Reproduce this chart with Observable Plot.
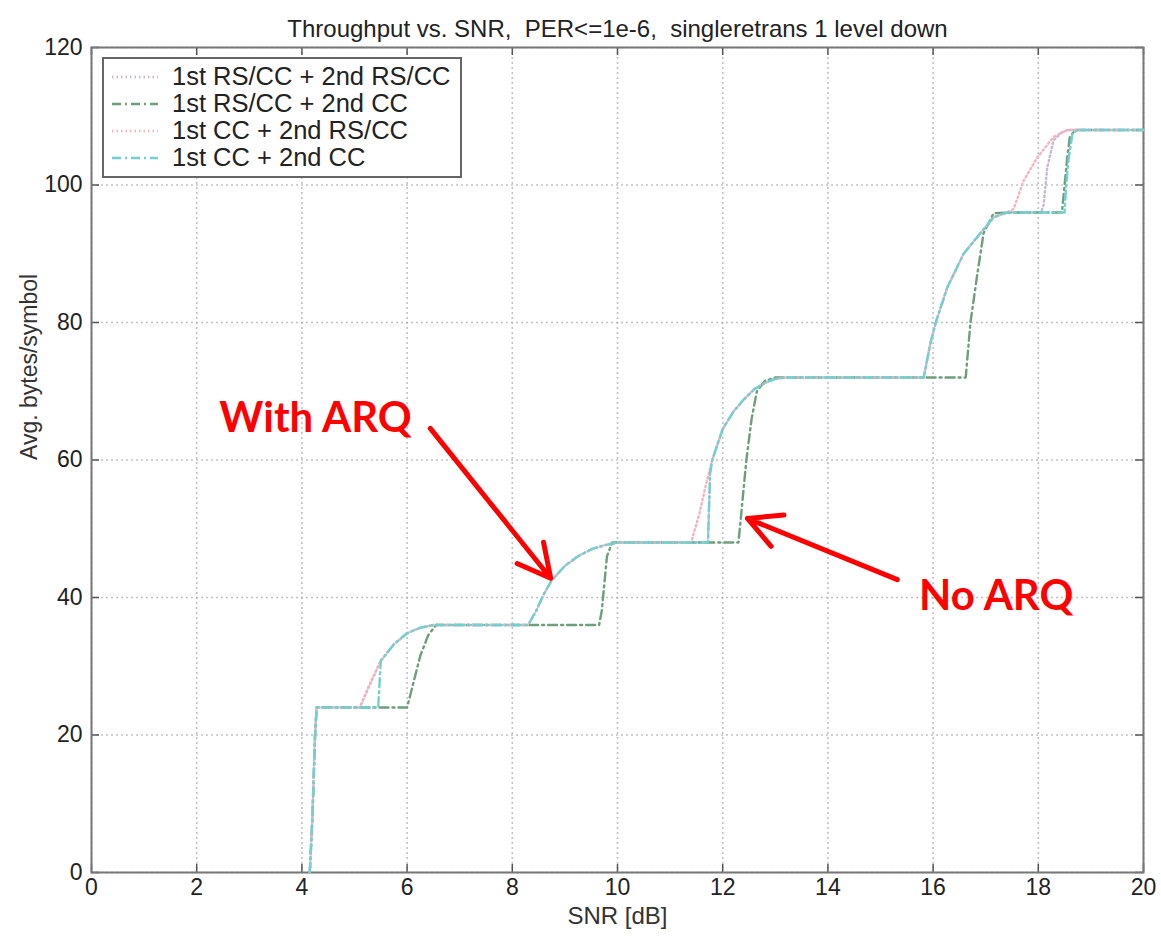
<!DOCTYPE html>
<html><head><meta charset="utf-8">
<script src="https://cdn.jsdelivr.net/npm/d3@7"></script>
<script src="https://cdn.jsdelivr.net/npm/@observablehq/plot@0.6"></script>
<style>
body{margin:0;background:#fff;}
#wrap{position:relative;width:1161px;height:939px;}
#legend{position:absolute;left:102px;top:57px;width:360px;height:121px;border:2px solid #666;background:#fff;font-family:"Liberation Sans",Arial,sans-serif;font-size:25.5px;color:#222;box-sizing:border-box;padding-top:4px}
.row{height:27px;display:flex;align-items:center;white-space:nowrap}
.row svg{margin-left:8px;margin-right:14px}
</style></head><body><div id="wrap"><div id="chart"></div><div id="legend"></div></div>
<script>
const titleText = "Throughput vs. SNR,  PER<=1e-6,  singleretrans 1 level down";
const xLabel = "SNR [dB]";
const yLabel = "Avg. bytes/symbol";
const xTicks = [0, 2, 4, 6, 8, 10, 12, 14, 16, 18, 20];
const yTicks = [0, 20, 40, 60, 80, 100, 120];
const seriesNames = ["1st RS/CC + 2nd RS/CC", "1st RS/CC + 2nd CC", "1st CC + 2nd RS/CC", "1st CC + 2nd CC"];

// 1st RS/CC + 2nd RS/CC
const rsrsX = [4.15,4.2,4.25,4.28, 5.1,5.3,5.5,5.75,6.0,6.25,6.5, 8.3,8.45,8.6,8.75,9.0,9.25,9.5,9.75,10.0, 11.72,11.76,11.8,12.0,12.2,12.4,12.6,12.8,13.0,13.2, 15.82,15.95,16.05,16.27,16.58,16.9,17.15,17.4, 18.05,18.1,18.17,18.29,18.45,18.6, 20];
const rsrsY = [0,8,20,24, 24,27.5,30.8,33.2,34.8,35.6,36, 36,38,40.5,42.5,44.6,46,47,47.6,48, 48,58,60,64.5,67,68.8,70.3,71.2,71.8,72, 72,77,80,85.1,90,93,95.3,96, 96,97,102.5,106.5,107.7,108, 108];
// 1st RS/CC + 2nd CC
const rsccX = [4.15,4.2,4.25,4.28, 6.0,6.1,6.25,6.4,6.55, 9.65,9.7,9.75,9.8,9.9, 12.3,12.35,12.45,12.55,12.65,12.8,13.0, 16.62,16.71,16.84,16.96,17.15,17.4, 18.45,18.5,18.55,18.6,18.7, 20];
const rsccY = [0,8,20,24, 24,27,31.5,34.5,36, 36,38,42,46,48, 48,52,60,66,70,71.5,72, 72,80,87,93,95.9,96, 96,100,104,107,108, 108];
// 1st CC + 2nd RS/CC
const ccrsX = [4.15,4.2,4.25,4.28, 5.1,5.3,5.5,5.75,6.0,6.25,6.5, 8.3,8.45,8.6,8.75,9.0,9.25,9.5,9.75,10.0, 11.4,11.55,11.7,11.8,12.0,12.2,12.4,12.6,12.8,13.0,13.2, 15.82,15.95,16.05,16.27,16.58,16.9,17.15,17.4, 17.53,17.72,17.98,18.29,18.55, 20];
const ccrsY = [0,8,20,24, 24,27.5,30.8,33.2,34.8,35.6,36, 36,38,40.5,42.5,44.6,46,47,47.6,48, 48,52,57,60,64.5,67,68.8,70.3,71.2,71.8,72, 72,77,80,85.1,90,93,95.3,96, 96.5,100.6,104,107,108, 108];
// 1st CC + 2nd CC
const ccccX = [4.15,4.2,4.25,4.28, 5.45,5.48,5.5,5.75,6.0,6.25,6.5, 8.3,8.45,8.6,8.75,9.0,9.25,9.5,9.75,10.0, 11.72,11.76,11.8,12.0,12.2,12.4,12.6,12.8,13.0,13.2, 15.82,15.95,16.05,16.27,16.58,16.9,17.15,17.4, 18.5,18.53,18.58,18.65,18.75, 20];
const ccccY = [0,8,20,24, 24,28,30.8,33.2,34.8,35.6,36, 36,38,40.5,42.5,44.6,46,47,47.6,48, 48,58,60,64.5,67,68.8,70.3,71.2,71.8,72, 72,77,80,85.1,90,93,95.3,96, 96,100,104,107.5,108, 108];

// annotations
const annoLabels = ["With ARQ", "No ARQ"];
const annoX = [4.26, 17.2];
const annoY = [66.0, 40.1];
const arrowX1 = [6.44, 15.32], arrowY1 = [64.6, 42.6];
const arrowX2 = [8.73, 12.47], arrowY2 = [42.8, 51.5];

const styles = [
  {color: "#c6b9d6", dash: "1.5,3"},
  {color: "#6f9e7c", dash: "9,4,2,4"},
  {color: "#f2b5bf", dash: "1.5,3"},
  {color: "#72d0d0", dash: "9,4,2,4"}
];
const xs = [rsrsX, rsccX, ccrsX, ccccX];
const ys = [rsrsY, rsccY, ccrsY, ccccY];
const seriesData = seriesNames.map((name, i) => xs[i].map((x, j) => ({name, x, y: ys[i][j]})));
const annos = annoLabels.map((t, i) => ({t, x: annoX[i], y: annoY[i], x1: arrowX1[i], y1: arrowY1[i], x2: arrowX2[i], y2: arrowY2[i]}));

const W = 1161, H = 939, mT = 47, mL = 91, mR = 18, mB = 67;
const fw = W - mL - mR, fh = H - mT - mB;

const chart = Plot.plot({
  width: W, height: H, marginTop: mT, marginLeft: mL, marginRight: mR, marginBottom: mB,
  style: {fontFamily: "Liberation Sans, Arial, sans-serif", fontSize: "23px", color: "#222", background: "#fff"},
  x: {domain: [0, 20]},
  y: {domain: [0, 120]},
  marks: [
    Plot.gridX(xTicks, {stroke: "#aaa", strokeOpacity: 0.7, strokeWidth: 1.6, strokeDasharray: "2,3"}),
    Plot.gridY(yTicks, {stroke: "#aaa", strokeOpacity: 0.7, strokeWidth: 1.6, strokeDasharray: "2,3"}),
    Plot.tickX(xTicks, {x: d => d, insetTop: fh - 8, stroke: "#555", strokeWidth: 1.5}),
    Plot.tickX(xTicks, {x: d => d, insetBottom: fh - 8, stroke: "#555", strokeWidth: 1.5}),
    Plot.tickY(yTicks, {y: d => d, insetRight: fw - 8, stroke: "#555", strokeWidth: 1.5}),
    Plot.tickY(yTicks, {y: d => d, insetLeft: fw - 8, stroke: "#555", strokeWidth: 1.5}),
    Plot.frame({stroke: "#777", strokeWidth: 2}),
    Plot.axisX(xTicks, {tickSize: 0, tickPadding: 6, label: null, fill: "#222"}),
    Plot.axisY(yTicks, {tickSize: 0, tickPadding: 9, label: null, fill: "#222"}),
    ...seriesData.map((d, i) => Plot.line(d, {x: "x", y: "y", stroke: styles[i].color, strokeWidth: 2.4, strokeDasharray: styles[i].dash})),
    Plot.text([titleText], {frameAnchor: "top", dy: -28, fontSize: 24, fill: "#222"}),
    Plot.text([xLabel], {frameAnchor: "bottom", dy: 51, fontSize: 24, fill: "#333"}),
    Plot.text([yLabel], {frameAnchor: "left", dx: -62, rotate: -90, fontSize: 23, fill: "#333"}),
    Plot.arrow(annos, {x1: "x1", y1: "y1", x2: "x2", y2: "y2", stroke: "#ff0000", strokeWidth: 5, headLength: 11, headAngle: 55}),
    Plot.text(annos, {x: "x", y: "y", text: "t", fill: "#ff0000", fontSize: 42, fontWeight: "bold", fontFamily: "Lato, Open Sans, sans-serif"})
  ]
});
document.getElementById("chart").append(chart);

const legend = document.getElementById("legend");
seriesNames.forEach((name, i) => {
  const row = document.createElement("div");
  row.className = "row";
  row.innerHTML = `<svg width="46" height="10"><line x1="0" y1="5" x2="46" y2="5" stroke="${styles[i].color}" stroke-width="2.4" stroke-dasharray="${styles[i].dash}"/></svg><span>${name}</span>`;
  legend.append(row);
});
</script>
</body></html>
